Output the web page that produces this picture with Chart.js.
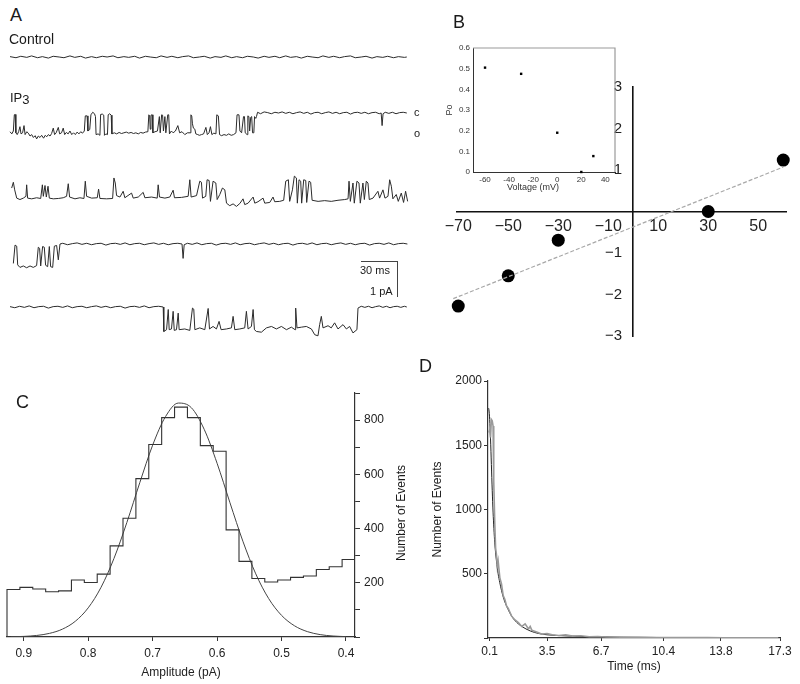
<!DOCTYPE html>
<html><head><meta charset="utf-8">
<script src="https://cdn.jsdelivr.net/npm/chart.js@4.4.1/dist/chart.umd.min.js"></script>
<style>
body{margin:0;background:#fff;}
#wrap{position:relative;width:800px;height:684px;overflow:hidden;background:#fff;font-family:'Liberation Sans',Arial,sans-serif;color:#1a1a1a;}
canvas{position:absolute;}
.t{position:absolute;white-space:nowrap;line-height:1;}
.sb{position:absolute;background:#444;}
</style></head><body><div id="wrap">
<canvas id="tr0" width="420" height="54" style="left:0;top:39px"></canvas>
<canvas id="tr1" width="420" height="54" style="left:0;top:95px"></canvas>
<canvas id="tr2" width="420" height="54" style="left:0;top:165px"></canvas>
<canvas id="tr3" width="420" height="54" style="left:0;top:226px"></canvas>
<canvas id="tr4" width="420" height="54" style="left:0;top:289px"></canvas>
<canvas id="cB" width="370" height="280" style="left:430px;top:75px"></canvas>
<canvas id="cI" width="185" height="160" style="left:440px;top:38px"></canvas>
<canvas id="cC" width="414" height="304" style="left:0;top:380px"></canvas>
<canvas id="cD" width="380" height="314" style="left:420px;top:370px"></canvas>

<div class="t" style="left:10px;top:6px;font-size:18px">A</div>
<div class="t" style="left:9px;top:32px;font-size:14px">Control</div>
<div class="t" style="left:10px;top:91px;font-size:13px">IP<span style="position:relative;top:2px">3</span></div>
<div class="t" style="left:414px;top:107px;font-size:11px">c</div>
<div class="t" style="left:414px;top:128px;font-size:11px">o</div>
<div class="sb" style="left:361px;top:261px;width:37px;height:1px"></div>
<div class="sb" style="left:397px;top:261px;width:1px;height:36px"></div>
<div class="t" style="left:360px;top:265px;font-size:11px">30 ms</div>
<div class="t" style="left:370px;top:286px;font-size:11px">1 pA</div>
<div class="t" style="left:453px;top:13px;font-size:18px">B</div>
<div class="t" style="left:507px;top:183px;font-size:9px;color:#333">Voltage (mV)</div>
<div class="t" style="left:16px;top:393px;font-size:18px">C</div>
<div class="t" style="left:401px;top:513px;font-size:12px;transform:translate(-50%,-50%) rotate(-90deg)">Number of Events</div>
<div class="t" style="left:419px;top:357px;font-size:18px">D</div>
</div>
<script>
// ---------- Panel A: single-channel current traces (time ms, current pA; 0 = closed level) ----------
const controlTrace = [[0,0.01],[5,-0.02],[9,0.02],[14,-0.01],[18,0.03],[23,-0.02],[27,0.01],[32,-0.03],[36,0.02],[41,0],[45,-0.02],[50,0.03],[54,-0.01],[59,0.02],[63,-0.03],[68,0.01],[72,-0.02],[77,0.02],[81,0],[86,0.03],[90,-0.02],[95,0.01],[99,-0.01],[104,0.02],[108,-0.03],[113,0.02],[117,0],[122,-0.02],[126,0.03],[131,-0.01],[135,0.02],[140,-0.02],[144,0.01],[149,0.03],[153,-0.02],[158,0],[162,0.02],[167,-0.03],[171,0.01],[176,-0.01],[180,0.03],[185,-0.02],[189,0.01],[194,-0.02],[198,0.02],[203,0],[207,-0.03],[212,0.02],[216,-0.01],[221,0.02],[225,-0.02],[230,0.03],[234,-0.01],[239,0.01],[243,-0.03],[248,0.02],[252,0],[257,-0.02],[261,0.03],[266,-0.01],[270,0.02],[275,-0.02],[279,0.01],[284,0.03],[288,-0.02],[293,0],[297,0.02],[302,-0.03],[306,0.01],[311,-0.01],[315,0.02],[320,-0.02],[324,0.01],[329,-0.01],[331,0]];

const ip3Trace1 = [[0,-0.52],[1.5,-0.58],[2.8,-0.5],[3.6,-0.05],[4.3,-0.04],[4.9,-0.55],[6,-0.6],[7.2,-0.52],[8.3,-0.38],[9.2,-0.58],[10.5,-0.55],[11.7,-0.35],[12.6,-0.6],[14,-0.52],[15.3,-0.56],[16.7,-0.64],[18.1,-0.6],[19.5,-0.68],[21,-0.63],[22.2,-0.72],[23.6,-0.64],[25,-0.68],[26.4,-0.62],[28,-0.7],[29.4,-0.62],[30.6,-0.66],[32,-0.6],[33.4,-0.64],[34.7,-0.57],[36.1,-0.42],[37.2,-0.6],[38.5,-0.55],[40.3,-0.4],[41.4,-0.58],[43,-0.55],[44.4,-0.42],[45.6,-0.6],[47,-0.54],[48.5,-0.58],[50,-0.5],[51.5,-0.6],[53,-0.55],[54.5,-0.6],[56,-0.53],[57.5,-0.58],[59,-0.52],[60.5,-0.56],[62,-0.5],[62.8,-0.08],[64.3,-0.08],[65,-0.5],[66.5,-0.46],[67.5,-0.05],[69,0.02],[70.5,-0.02],[71.3,-0.1],[71.8,-0.6],[73.5,-0.58],[75,-0.62],[75.6,-0.04],[77,-0.03],[78.2,-0.06],[78.8,-0.62],[80,-0.58],[81.3,-0.6],[81.9,-0.05],[83.2,-0.02],[84.4,-0.06],[85,-0.58],[87,-0.55],[89,-0.58],[91,-0.54],[93,-0.57],[95,-0.55],[97,-0.53],[99,-0.56],[101,-0.54],[103,-0.57],[105,-0.55],[107,-0.58],[109,-0.54],[111,-0.56],[113,-0.53],[115,-0.52],[115.8,-0.05],[116.5,-0.08],[117,-0.45],[117.6,-0.06],[118.6,-0.05],[119.2,-0.55],[121,-0.52],[123,-0.5],[124.6,-0.1],[125.3,-0.55],[126.5,-0.05],[127.3,-0.06],[128,-0.5],[129.2,-0.1],[130,-0.55],[131.6,-0.05],[132.4,-0.05],[133,-0.58],[134.6,-0.5],[136.1,-0.55],[138,-0.5],[140,-0.35],[141.5,-0.55],[143.5,-0.52],[145.8,-0.6],[148,-0.55],[150.2,-0.55],[150.9,-0.05],[151.6,-0.08],[152.2,-0.3],[153,-0.42],[154.2,-0.45],[155,-0.58],[156.6,-0.6],[158,-0.62],[159.7,-0.6],[161.5,-0.58],[163.4,-0.4],[164.6,-0.6],[166,-0.55],[167.2,-0.38],[168.4,-0.6],[170,-0.56],[171.8,-0.58],[172.5,-0.05],[173.8,-0.08],[174.8,-0.6],[176.5,-0.63],[178.5,-0.6],[180.6,-0.62],[182.5,-0.58],[184.5,-0.62],[186.5,-0.6],[188.5,-0.55],[189.4,-0.05],[191,-0.05],[191.8,-0.5],[193.2,-0.55],[194.8,-0.1],[195.6,-0.1],[196.2,-0.55],[197.8,-0.6],[198.4,-0.08],[199.3,-0.1],[199.9,-0.5],[200.8,-0.12],[201.6,-0.1],[202.3,-0.55],[203.4,-0.55],[204,-0.1],[205,-0.15],[205.6,-0.1],[206.5,0.02],[209,-0.02],[212,0.03],[215,0.01],[218,-0.02],[221,0.02],[224,0],[227,0.03],[230,-0.01],[233,0.02],[236,-0.02],[239,0.01],[242,0.03],[245,-0.01],[248,0.02],[251,-0.03],[254,0.01],[257,0.02],[260,-0.02],[263,0.01],[266,0.03],[269,-0.01],[272,0.02],[275,-0.02],[278,0.01],[281,0.02],[284,-0.03],[287,0.01],[290,0.02],[293,-0.01],[296,0.02],[299,-0.02],[302,0.01],[305,0.02],[308,-0.02],[309.6,0],[310.4,-0.35],[311.2,-0.02],[313,0.02],[316,-0.01],[319,0.02],[322,-0.02],[325,0.01],[328,0.02],[331,0]];

const ip3Trace2 = [[1.4,-0.14],[2.8,0.02],[3.9,-0.19],[5.6,-0.42],[8.3,-0.46],[11.1,-0.42],[13.3,-0.37],[13.9,-0.05],[14.7,-0.42],[18.1,-0.44],[22.2,-0.41],[25.6,-0.43],[27,-0.05],[27.8,-0.37],[29.2,-0.07],[30.3,-0.39],[31.7,-0.09],[32.8,-0.42],[36.1,-0.44],[40.3,-0.43],[44.4,-0.41],[47.2,-0.37],[48.6,-0.02],[49.7,-0.39],[54.2,-0.44],[58.3,-0.41],[61.7,-0.43],[62.8,0.05],[63.9,-0.37],[68.1,-0.42],[72.8,-0.41],[73.9,-0.17],[75,-0.43],[80.6,-0.44],[85.6,-0.43],[86.7,0.14],[87.8,0],[88.9,-0.35],[91.7,-0.39],[94.4,-0.23],[95.8,-0.41],[101.4,-0.28],[102.8,-0.42],[107,-0.39],[111.1,-0.26],[112.5,-0.41],[118.1,-0.39],[122.8,-0.42],[123.6,-0.05],[124.7,-0.39],[129.2,-0.42],[133.3,-0.39],[136.1,-0.2],[137.2,-0.41],[143.1,-0.4],[148.6,-0.37],[150,0.09],[151.1,-0.39],[155.6,-0.35],[158.3,0.05],[159.7,0.02],[160.6,-0.42],[163.3,-0.37],[164.4,0.09],[166.1,0.07],[167.2,-0.51],[169.4,0.05],[171.7,0],[172.8,-0.46],[175,-0.32],[177.2,-0.14],[179.2,-0.19],[180.6,-0.56],[183.3,-0.63],[186.1,-0.58],[188.9,-0.65],[191.7,-0.57],[194.4,-0.44],[195.8,-0.6],[198.6,-0.56],[202.8,-0.39],[204.2,-0.56],[206.9,-0.52],[211.1,-0.42],[212.5,-0.56],[216.7,-0.54],[219.4,-0.39],[220.8,-0.52],[225,-0.51],[228.3,-0.48],[230,0.05],[232.2,0.09],[233.3,-0.51],[235.6,-0.19],[237.2,0.19],[238.9,0.14],[239.7,-0.56],[241.1,0.09],[242.5,0.05],[243.3,-0.56],[245,0.09],[246.7,0.07],[247.5,-0.54],[249.4,0.05],[250.8,0.02],[252,-0.48],[257,-0.51],[262.5,-0.49],[268,-0.51],[273.6,-0.48],[279.2,-0.46],[282,-0.44],[282.8,0.05],[283.9,-0.51],[286.1,0],[287.2,-0.56],[289.4,0.05],[291.1,0],[292.2,-0.56],[294.4,0],[295.6,-0.46],[297.2,0.05],[298.6,0],[299.7,-0.46],[302.8,-0.42],[306.9,-0.23],[308.3,-0.42],[311.1,-0.19],[312.8,-0.42],[315.3,-0.37],[316.7,0.09],[318.1,-0.09],[319.4,-0.44],[322.2,-0.32],[323.9,-0.51],[326.4,-0.28],[328.3,-0.54],[330,-0.23],[331.7,-0.51]];

const ip3Trace3 = [[2.8,-0.54],[4.2,-0.03],[5.6,-0.06],[6.4,-0.58],[8.3,-0.65],[11.1,-0.61],[13.9,-0.66],[16.7,-0.61],[19.4,-0.65],[22.2,-0.6],[23.6,-0.09],[24.7,-0.12],[25.6,-0.61],[27.2,-0.07],[28.6,-0.09],[29.7,-0.59],[31.4,-0.63],[32.8,-0.07],[33.9,-0.63],[35.6,-0.65],[37,-0.06],[38.9,-0.04],[40.3,-0.44],[41.7,0],[44,0.02],[48,-0.02],[52,0.01],[56,0.03],[60,-0.01],[64,0.02],[68,-0.02],[72,0.01],[76,0.02],[80,-0.03],[84,0.01],[88,0.02],[92,-0.01],[96,0.03],[100,-0.02],[104,0.01],[108,0.02],[112,-0.02],[116,0.01],[120,0.03],[124,-0.01],[128,0.02],[132,-0.02],[136,0.01],[140,0.02],[143.5,0],[144.4,-0.4],[145.3,-0.02],[148,0.02],[152,-0.01],[156,0.03],[160,-0.02],[164,0.01],[168,0.02],[172,-0.03],[176,0.01],[180,0.02],[184,-0.01],[188,0.03],[192,-0.02],[196,0.01],[200,0.02],[204,-0.02],[208,0.01],[212,0.03],[216,-0.01],[220,0.02],[224,-0.02],[228,0.01],[232,0.02],[236,-0.03],[240,0.01],[244,0.02],[248,-0.01],[252,0.03],[256,-0.02],[260,0.01],[264,0.02],[268,-0.02],[272,0.01],[276,0.03],[280,-0.01],[284,0.02],[288,-0.02],[292,0.01],[296,0.02],[300,-0.03],[304,0.01],[308,0.02],[312,-0.01],[316,0.03],[320,-0.02],[324,0.01],[328,0.02],[331.5,0]];

const ip3Trace4 = [[0,0.01],[4,-0.02],[8,0.02],[12,-0.01],[16,0.03],[20,-0.02],[24,0.01],[28,0.02],[32,-0.03],[36,0.01],[40,0.02],[44,-0.01],[48,0.03],[52,-0.02],[56,0.01],[60,0.02],[64,-0.02],[68,0.01],[72,0.03],[76,-0.01],[80,0.02],[84,-0.02],[88,0.01],[92,0.02],[96,-0.03],[100,0.01],[104,0.02],[108,-0.01],[112,0.03],[116,-0.02],[120,0.01],[124,0.02],[127.8,0],[128.3,-0.68],[130.6,-0.63],[132,-0.07],[132.8,-0.63],[134.7,-0.61],[136.1,-0.12],[137,-0.65],[138.9,-0.63],[140.3,-0.17],[141.1,-0.63],[145.8,-0.61],[150,-0.65],[152.2,-0.03],[153.3,-0.06],[154.2,-0.63],[158.3,-0.58],[162.5,-0.63],[165.3,-0.04],[166.4,-0.61],[169.4,-0.54],[172.2,-0.61],[174.4,-0.4],[176.1,-0.63],[180.6,-0.61],[184.7,-0.58],[186.1,-0.26],[187.5,-0.63],[191.7,-0.61],[195.8,-0.58],[197.2,-0.12],[198.6,-0.61],[201.4,-0.54],[202.8,-0.07],[203.9,-0.63],[205.6,-0.68],[209.7,-0.7],[213.9,-0.58],[218.1,-0.54],[222.2,-0.61],[226.4,-0.54],[230.6,-0.63],[234.7,-0.56],[237.8,-0.63],[238.3,-0.03],[239.4,-0.58],[243.1,-0.56],[247.2,-0.54],[251.4,-0.61],[254.2,-0.77],[256.9,-0.8],[258.3,-0.49],[259.7,-0.26],[261.1,-0.58],[265.3,-0.52],[268,-0.58],[270.8,-0.44],[273.6,-0.61],[277.8,-0.49],[280.6,-0.61],[283.3,-0.54],[286.1,-0.72],[289.4,-0.63],[290.3,-0.03],[293,0.02],[296,-0.01],[299,0.02],[302,-0.02],[305,0.01],[308,0.03],[311,-0.01],[314,0.02],[317,-0.02],[320,0.01],[323,0.02],[326,-0.01],[329,0.02],[331,0]];

// ---------- Panel B: I-V relation and inset Po ----------
const ivVoltage = [-70, -50, -30, 30, 60];          // mV
const ivCurrent = [-2.28, -1.55, -0.69, 0.0, 1.24];  // pA
const ivFitVoltage = [-72, 60];
const ivFitCurrent = [-2.1, 1.07];
const bXTicks = [-70, -50, -30, -10, 10, 30, 50];
const bYTicks = [-3, -2, -1, 1, 2, 3];

const poVoltage = [-60, -30, 0, 20, 30];
const poValue = [0.505, 0.475, 0.19, 0.0, 0.077];
const insetXTicks = [-60, -40, -20, 0, 20, 40];

// ---------- Panel C: amplitude histogram (pA) ----------
const ampBinEdges = [0.926,0.906,0.886,0.866,0.846,0.826,0.806,0.786,0.766,0.746,0.726,0.706,0.686,0.666,0.646,0.626,0.606,0.586,0.566,0.546,0.526,0.506,0.486,0.466,0.446,0.426,0.406,0.386];
const ampCounts = [175,183,177,167,170,210,201,232,336,438,584,710,809,848,809,706,685,395,279,216,203,210,220,225,249,259,286];
const gaussAmp = [0.92,0.90,0.88,0.86,0.84,0.82,0.80,0.78,0.76,0.74,0.72,0.70,0.68,0.66,0.64,0.62,0.60,0.58,0.56,0.54,0.52,0.50,0.48,0.46,0.44,0.42,0.40];
const gaussCount = [0.8,2.2,5.7,13.4,29,58,107.5,183.6,289.8,422.5,568.9,707.6,813,862.9,845.9,766,640.8,495.1,353.4,233,141.9,79.8,41.5,19.9,8.8,3.6,1.4];
const cXTicks = [0.9, 0.8, 0.7, 0.6, 0.5, 0.4];

// ---------- Panel D: open-time distribution ----------
const dwellTime = [0.05,0.1,0.15,0.2,0.25,0.3,0.34,0.4,0.45,0.5,0.55,0.6,0.7,0.8,0.9,1.0,1.1,1.2,1.3,1.4,1.6,1.8,2.0,2.2,2.4,2.5,2.6,2.8,3.0,3.2,3.5,3.8,4.2,4.6,5.0,5.5,6.0,6.5,7.0,8,9,10,11,12,13,14,15,16,17.2];
const dwellCount = [1600,1620,1560,1700,1690,1650,1220,900,700,650,560,600,470,420,330,300,250,230,200,170,140,120,90,110,70,90,60,50,40,30,35,25,20,25,15,18,10,12,8,6,5,4,4,3,3,2,2,2,1];
const fitTime = [0.02,0.05,0.1,0.15,0.2,0.25,0.3,0.35,0.4,0.5,0.6,0.7,0.8,0.9,1.0,1.2,1.4,1.6,1.8,2.0,2.5,3.0,3.5,4,5,6,8,10,12,14,17.2];
const fitCount = [1790,1780,1700,1550,1350,1150,980,850,740,600,500,430,370,320,280,220,170,135,110,90,55,35,25,20,14,10,6,4,3,2,1];
const dXTicks = [0.1, 3.5, 6.7, 10.4, 13.8, 17.3];

// ---------- helpers ----------
Chart.defaults.font.family = "'Liberation Sans', Arial, sans-serif";
Chart.defaults.color = '#222';
const pairs = a => a.map(p => ({x: p[0], y: p[1]}));
const zip = (xs, ys) => xs.map((x, i) => ({x, y: ys[i]}));
const minus = v => (v < 0 ? '\u2212' + Math.abs(v) : '' + v);
const base = () => ({responsive:false, animation:false, devicePixelRatio:1, events:[],
  plugins:{legend:{display:false}, tooltip:{enabled:false}}});

// Panel A charts
[['tr0', controlTrace], ['tr1', ip3Trace1], ['tr2', ip3Trace2], ['tr3', ip3Trace3], ['tr4', ip3Trace4]].forEach(([id, tr]) => {
  new Chart(document.getElementById(id), {
    type:'scatter',
    data:{datasets:[{data: pairs(tr), showLine:true, pointRadius:0, borderColor:'#2b2b2b', borderWidth:1, clip:false}]},
    options:Object.assign(base(), {
      layout:{padding:{left:10, right:12, top:0, bottom:0}},
      scales:{x:{type:'linear', min:0, max:332, display:false}, y:{type:'linear', min:-1, max:0.5, display:false}}
    })
  });
});

// Panel B main
new Chart(document.getElementById('cB'), {
  type:'scatter',
  data:{datasets:[
    {data: zip(ivFitVoltage, ivFitCurrent), showLine:true, pointRadius:0, borderColor:'#a8a8a8', borderWidth:1.2, borderDash:[4,2], clip:false},
    {data: zip(ivVoltage, ivCurrent), pointRadius:6.5, pointBackgroundColor:'#000', pointBorderWidth:0, clip:false}
  ]},
  options:Object.assign(base(), {
    layout:{padding:{left:27, right:14, top:10, bottom:19}},
    scales:{
      x:{type:'linear', min:-70.5, max:61.1, position:{y:0},
         grid:{display:false, drawTicks:false}, border:{color:'#111', width:1.6},
         ticks:{font:{size:16}, color:'#222', padding:5, callback: v => minus(v)},
         afterBuildTicks: s => { s.ticks = bXTicks.map(v => ({value:v})); }},
      y:{type:'linear', min:-3, max:3, position:{x:0},
         grid:{display:false, drawTicks:false}, border:{color:'#111', width:1.6},
         ticks:{font:{size:15}, color:'#222', callback: v => minus(v) + '\u2002\u2005'},
         afterBuildTicks: s => { s.ticks = bYTicks.map(v => ({value:v})); }}
    }
  })
});

// Panel B inset
const frameTopRight = {id:'frameTR', afterDraw(chart){
  const {ctx, chartArea:a} = chart; ctx.save(); ctx.strokeStyle = '#9a9a9a'; ctx.lineWidth = 1.2;
  ctx.beginPath(); ctx.moveTo(a.left, a.top); ctx.lineTo(a.right, a.top); ctx.lineTo(a.right, a.bottom); ctx.stroke(); ctx.restore(); }};
new Chart(document.getElementById('cI'), {
  type:'scatter',
  data:{datasets:[{data: zip(poVoltage, poValue), pointStyle:'rect', pointRadius:1.7, pointBackgroundColor:'#000', pointBorderWidth:0, clip:false}]},
  options:Object.assign(base(), {
    layout:{padding:{left:0, right:10, top:10, bottom:0}},
    scales:{
      x:{type:'linear', min:-70, max:48, grid:{display:false, drawTicks:false}, border:{color:'#333'},
         ticks:{font:{size:8}, color:'#333', padding:3}, afterFit: s => { s.height = 26; },
         afterBuildTicks: s => { s.ticks = insetXTicks.map(v => ({value:v})); }},
      y:{type:'linear', min:0, max:0.6, grid:{display:false, drawTicks:false}, border:{color:'#333'},
         ticks:{font:{size:8}, color:'#333', padding:3, stepSize:0.1, callback: v => (Math.abs(v) < 1e-9 ? '0' : v.toFixed(1))},
         title:{display:true, text:'Po', font:{size:9}, color:'#333', padding:{top:4, bottom:0}},
         afterFit: s => { s.width = 33; }}
    }
  }),
  plugins:[frameTopRight]
});

// Panel C
const histPts = ampBinEdges.map((e, i) => ({x: e, y: i < ampCounts.length ? ampCounts[i] : ampCounts[ampCounts.length - 1]}));
histPts.unshift({x: ampBinEdges[0], y: 0});
new Chart(document.getElementById('cC'), {
  type:'scatter',
  data:{datasets:[
    {data: histPts, showLine:true, stepped:true, pointRadius:0, borderColor:'#333', borderWidth:1.1, clip:false},
    {data: zip(gaussAmp, gaussCount), showLine:true, pointRadius:0, borderColor:'#444', borderWidth:1, cubicInterpolationMode:'monotone'}
  ]},
  options:Object.assign(base(), {
    layout:{padding:{left:7, right:0, top:13, bottom:0}},
    scales:{
      x:{type:'linear', reverse:true, min:0.386, max:0.926, position:'bottom',
         grid:{display:true, drawOnChartArea:false, drawTicks:true, tickLength:4, color:'#333'}, border:{color:'#333', width:1.2},
         ticks:{font:{size:12}, color:'#222', padding:5, callback: v => v.toFixed(1)},
         afterBuildTicks: s => { s.ticks = cXTicks.map(v => ({value:v})); },
         title:{display:true, text:'Amplitude (pA)', font:{size:12}, color:'#222'},
         afterFit: s => { s.height = 47; }},
      y:{type:'linear', min:0, max:900, position:'right',
         grid:{display:true, drawOnChartArea:false, drawTicks:true, tickLength:5, color:'#333'}, border:{color:'#333', width:1.2},
         ticks:{font:{size:12}, color:'#222', padding:4, stepSize:100, callback: v => (v > 0 && v % 200 === 0 ? '' + v : '')},
         afterFit: s => { s.width = 59; }}
    }
  })
});

// Panel D
new Chart(document.getElementById('cD'), {
  type:'scatter',
  data:{datasets:[
    {data: zip(dwellTime, dwellCount), showLine:true, pointRadius:0, borderColor:'#9a9a9a', borderWidth:1.6},
    {data: zip(fitTime, fitCount), showLine:true, pointRadius:0, borderColor:'#222', borderWidth:1, cubicInterpolationMode:'monotone'}
  ]},
  options:Object.assign(base(), {
    layout:{padding:{left:6, right:20, top:11, bottom:6}},
    scales:{
      x:{type:'linear', min:0, max:17.3,
         grid:{display:true, drawOnChartArea:false, drawTicks:true, tickLength:3, color:'#333'}, border:{color:'#333', width:1.2},
         ticks:{font:{size:12}, color:'#222', padding:3},
         afterBuildTicks: s => { s.ticks = dXTicks.map(v => ({value:v})); },
         title:{display:true, text:'Time (ms)', font:{size:12}, color:'#222'},
         afterFit: s => { s.height = 40; }},
      y:{type:'linear', min:0, max:2000,
         grid:{display:true, drawOnChartArea:false, drawTicks:true, tickLength:4, color:'#333'}, border:{color:'#333', width:1.2},
         ticks:{font:{size:12}, color:'#222', padding:2, stepSize:500, callback: v => (v === 0 ? '' : '' + v)},
         title:{display:true, text:'Number of Events', font:{size:12}, color:'#222'},
         afterFit: s => { s.width = 62; }}
    }
  })
});
</script>
</body></html>
